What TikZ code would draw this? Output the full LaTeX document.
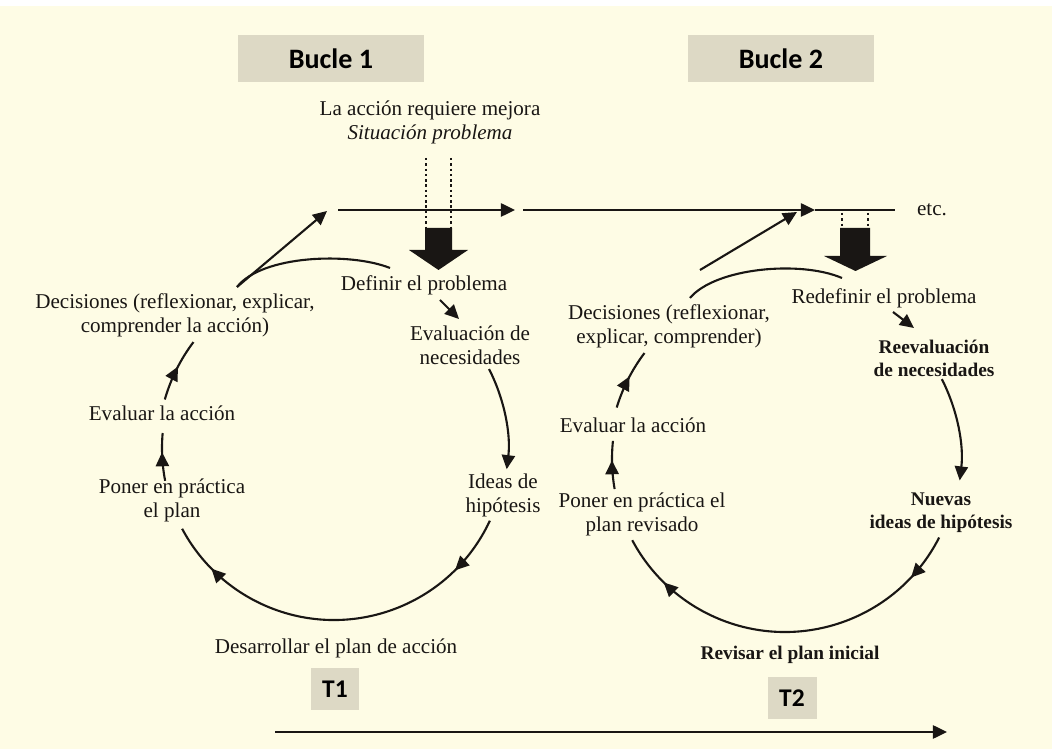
\documentclass[tikz,border=0pt]{standalone}
\usepackage{fontspec}
\setmainfont{Liberation Serif}
\newfontfamily\boxfont{Carlito}
\usetikzlibrary{arrows.meta,calc,decorations.markings}

\definecolor{paper}{RGB}{254,252,229}
\definecolor{boxgray}{RGB}{221,217,197}
\definecolor{ink}{RGB}{25,22,20}

\begin{document}
\begin{tikzpicture}[
  x=0.02cm, y=-0.02cm,
  >={Triangle[length=8pt,width=7.5pt]},
  % text styles
  lbl/.style={font=\fontsize{12}{13.6}\selectfont, align=center, inner sep=1pt, text=ink},
  blbl/.style={font=\fontsize{11}{13}\selectfont\bfseries, align=center, inner sep=1pt, text=ink},
  tag/.style={fill=boxgray, font=\boxfont\bfseries\fontsize{16}{18}\selectfont,
              minimum width=3.74cm, minimum height=0.94cm, inner sep=0pt},
  ttag/.style={fill=boxgray, font=\boxfont\bfseries\fontsize{14.5}{16}\selectfont,
               minimum width=0.98cm, minimum height=0.84cm, inner sep=0pt},
  % line styles
  line/.style={line width=1.2pt, ink},
  flow/.style={line width=1.2pt, ink, ->},
  dots/.style={line width=1.3pt, ink, dash pattern=on 1.4pt off 1.6pt},
  tipat/.style={postaction={decorate, decoration={markings,
                mark=at position #1 with {\arrow{Triangle[length=8pt,width=7.5pt]}}}}},
]
\useasboundingbox (0,0) rectangle (1052,749);
\fill[white] (0,0) rectangle (1052,6);
\fill[paper] (0,6) rectangle (1052,749);

%% -- headings --------------------------------------------------------
\node[tag]  (bucle1) at (331,58.5) {Bucle 1};
\node[tag]  (bucle2) at (781,58.5) {Bucle 2};
\node[ttag] (t1) at (335,689) {T1};
\node[ttag] (t2) at (792,698) {T2};

\node[lbl] (req) at (430,122) {La acción requiere mejora\\\textit{Situación problema}};
\node[lbl] (etc) at (932,210) {etc.};

%% -- loop 1 labels ---------------------------------------------------
\node[lbl] (def1) at (424,285) {Definir el problema};
\node[lbl] (eva1) at (470,345) {Evaluación de\\necesidades};
\node[lbl] (ide1) at (503,495) {Ideas de\\hipótesis};
\node[lbl] (des1) at (336,648) {Desarrollar el plan de acción};
\node[lbl] (pon1) at (172,500) {Poner en práctica\\el plan};
\node[lbl] (evl1) at (162,413) {Evaluar la acción};
\node[lbl] (dec1) at (175,315) {Decisiones (reflexionar, explicar,\\comprender la acción)};

%% -- loop 2 labels ---------------------------------------------------
\node[lbl]  (red2) at (884,298) {Redefinir el problema};
\node[blbl] (rev2) at (934,358) {Reevaluación\\de necesidades};
\node[blbl] (nue2) at (941,513) {Nuevas\\ideas de hipótesis};
\node[blbl] (rpl2) at (790,655) {Revisar el plan inicial};
\node[lbl]  (pon2) at (642,514) {Poner en práctica el\\plan revisado};
\node[lbl]  (evl2) at (633,425) {Evaluar la acción};
\node[lbl]  (dec2) at (669,326) {Decisiones (reflexionar,\\explicar, comprender)};

%% -- time line on top ------------------------------------------------
\coordinate (h0) at (338,210);
\coordinate (h1) at (515,210);
\coordinate (h2) at (523,210);
\coordinate (h3) at (815,210);
\coordinate (h4) at (895,210);
\draw[flow] (h0) -- (h1);
\draw[flow] (h2) -- (h3);
\draw[line] (h3) -- (h4);

%% -- problem arrows --------------------------------------------------
\draw[dots] (426,158) -- (426,229);
\draw[dots] (451,158) -- (451,229);
\fill[ink] (425,228) -- (452,228) -- (452,250) -- (468,250) -- (438.5,270)
      -- (409,250) -- (425,250) -- cycle;
\draw[dots] (842,213) -- (842,229);
\draw[dots] (868,213) -- (868,229);
\fill[ink] (840,228) -- (870,228) -- (870,256) -- (887,256) -- (855.5,271)
      -- (824,256) -- (840,256) -- cycle;

%% -- loop 1 ----------------------------------------------------------
\coordinate (o1) at (334,448);
\coordinate (k1) at (237,287);
\coordinate (d1a) at (440,300);
\coordinate (d1b) at (459,319);
\draw[flow] (k1) -- (327,211);
\draw[line] (k1) .. controls (262,255) and (350,252) .. (390,268);
\draw[flow] (d1a) -- (d1b);
\draw[flow] ($(o1)+(-27:174)$) arc[start angle=-27, end angle=7, radius=174];
\draw[line, tipat=0.16, tipat=0.87]
  ($(o1)+(25:172)$) arc[start angle=25, end angle=152, radius=172];
\draw[line, tipat=0.6] ($(o1)+(169:172)$) arc[start angle=169, end angle=185, radius=172];
\draw[line, tipat=0.55] ($(o1)+(196:176)$) arc[start angle=196, end angle=217, radius=176];

%% -- loop 2 ----------------------------------------------------------
\coordinate (o2) at (785,459);
\coordinate (k2) at (700,270);
\coordinate (d2a) at (893,312);
\coordinate (d2b) at (914,328);
\draw[flow] (k2) -- (797,212);
\draw[line] (690,298) .. controls (715,268) and (800,260) .. (842,278);
\draw[flow] (d2a) -- (d2b);
\draw[flow] ($(o2)+(-27:176)$) arc[start angle=-27, end angle=7, radius=176];
\draw[line, tipat=0.13, tipat=0.86]
  ($(o2)+(27:173)$) arc[start angle=27, end angle=152, radius=173];
\draw[line, tipat=0.6] ($(o2)+(170:173)$) arc[start angle=170, end angle=186, radius=173];
\draw[line, tipat=0.55] ($(o2)+(197:176)$) arc[start angle=197, end angle=217, radius=176];

%% -- time axis -------------------------------------------------------
\coordinate (ax0) at (275,732);
\coordinate (ax1) at (947,732);
\draw[flow] (ax0) -- (ax1);

\end{tikzpicture}
\end{document}
